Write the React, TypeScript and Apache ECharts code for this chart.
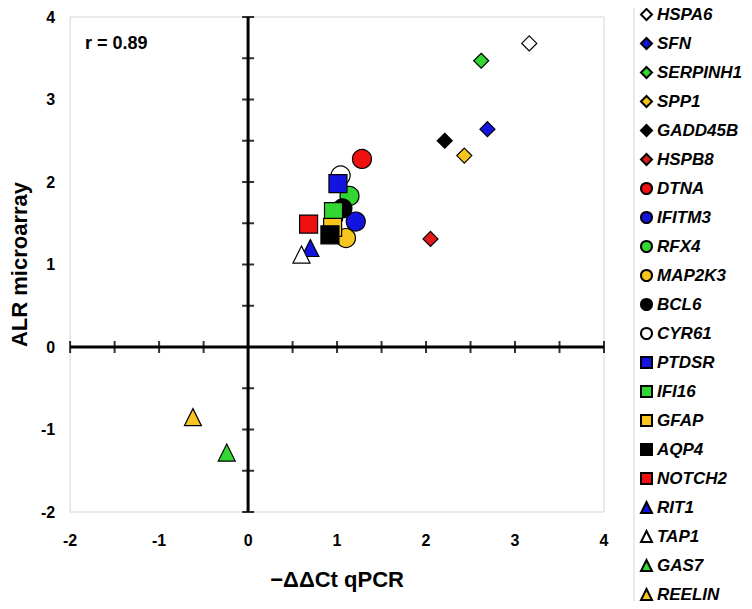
import React, { useEffect, useRef } from "react";
import * as echarts from "echarts";

const genes = ["HSPA6", "SFN", "SERPINH1", "SPP1", "GADD45B", "HSPB8", "DTNA", "IFITM3", "RFX4", "MAP2K3", "BCL6", "CYR61", "PTDSR", "IFI16", "GFAP", "AQP4", "NOTCH2", "RIT1", "TAP1", "GAS7", "REELIN"];
const qpcrValues = [3.16, 2.69, 2.62, 2.43, 2.21, 2.05, 1.28, 1.21, 1.14, 1.10, 1.06, 1.04, 1.01, 0.96, 0.95, 0.92, 0.68, 0.70, 0.60, -0.24, -0.62];
const microarrayValues = [3.68, 2.64, 3.47, 2.32, 2.50, 1.31, 2.28, 1.52, 1.83, 1.32, 1.68, 2.08, 1.98, 1.64, 1.45, 1.36, 1.49, 1.20, 1.12, -1.28, -0.85];
const shapes = ["diamond", "diamond", "diamond", "diamond", "diamond", "diamond", "circle", "circle", "circle", "circle", "circle", "circle", "rect", "rect", "rect", "rect", "rect", "triangle", "triangle", "triangle", "triangle"];
const colors = ["#ffffff", "#1414e0", "#33d633", "#f7c51e", "#000000", "#e01a1a", "#f01010", "#1414e0", "#33d633", "#f7c51e", "#000000", "#ffffff", "#1414e0", "#33d633", "#f7c51e", "#000000", "#f01010", "#1414e0", "#ffffff", "#33d633", "#f7c51e"];
const xTickLabels = [-2, -1, 0, 1, 2, 3, 4];
const yTickLabels = [-2, -1, 0, 1, 2, 3, 4];
const crossTicks = [-2, -1.5, -1, -0.5, 0.5, 1, 1.5, 2, 2.5, 3, 3.5, 4];
const correlationText = "r = 0.89";

const FONT = "'Liberation Sans', Arial, sans-serif";
const sizeFor: Record<string, number> = { diamond: 15, circle: 19, rect: 18, triangle: 17 };

export default function App() {
  const ref = useRef<HTMLDivElement>(null);
  useEffect(() => {
    if (!ref.current) return;
    const chart = echarts.init(ref.current, undefined, { renderer: "svg" });
    const geneSeries = genes.map((g, i) => ({
      name: g,
      type: "scatter",
      z: 3,
      symbol: shapes[i],
      symbolSize: sizeFor[shapes[i]],
      itemStyle: { color: colors[i], borderColor: "#000", borderWidth: 1.2, opacity: 1 },
      data: [[qpcrValues[i], microarrayValues[i]]],
    }));
    chart.setOption({
      animation: false,
      backgroundColor: "#fff",
      grid: { left: 68, top: 17, right: 148, bottom: 97, show: true, borderColor: "#d4d4d4", borderWidth: 1 },
      xAxis: {
        type: "value",
        min: -2,
        max: 4,
        interval: 1,
        name: "\u2212\u0394\u0394Ct qPCR",
        nameLocation: "middle",
        nameGap: 56,
        nameTextStyle: { fontFamily: FONT, fontWeight: "bold", fontSize: 22, color: "#000" },
        axisLine: { show: false },
        axisTick: { show: false },
        splitLine: { show: false },
        axisLabel: { margin: 20, fontFamily: FONT, fontWeight: "bold", fontSize: 16, color: "#000", formatter: (v: number) => (xTickLabels.includes(v) ? String(v) : "") },
      },
      yAxis: {
        type: "value",
        min: -2,
        max: 4,
        interval: 1,
        name: "ALR microarray",
        nameLocation: "middle",
        nameGap: 40,
        nameTextStyle: { fontFamily: FONT, fontWeight: "bold", fontSize: 22, color: "#000" },
        axisLine: { show: false },
        axisTick: { show: false },
        splitLine: { show: false },
        axisLabel: { margin: 15, fontFamily: FONT, fontWeight: "bold", fontSize: 16, color: "#000", formatter: (v: number) => (yTickLabels.includes(v) ? String(v) : "") },
      },
      legend: {
        orient: "vertical",
        left: 640,
        top: 6,
        height: 603,
        itemWidth: 11,
        itemHeight: 11,
        itemGap: 12,
        padding: 0,
        data: genes,
        textStyle: { fontFamily: FONT, fontWeight: "bold", fontStyle: "italic", fontSize: 17, color: "#000", lineHeight: 17 },
      },
      graphic: [
        { type: "line", shape: { x1: 634, y1: 0, x2: 634, y2: 603 }, style: { stroke: "#d4d4d4", lineWidth: 1 } },
        { type: "text", left: 85, top: 34, style: { text: correlationText, font: `bold 18px ${FONT}`, fill: "#000" } },
      ],
      series: [
        { type: "line", name: "xzero", z: 1, symbol: "none", silent: true, lineStyle: { color: "#000", width: 3 }, data: [[-2, 0], [4, 0]] },
        { type: "line", name: "yzero", z: 1, symbol: "none", silent: true, lineStyle: { color: "#000", width: 3 }, data: [[0, -2], [0, 4]] },
        { type: "scatter", name: "xticks", z: 1, symbol: "rect", symbolSize: [2, 12], silent: true, itemStyle: { color: "#000" }, data: crossTicks.map((v) => [v, 0]) },
        { type: "scatter", name: "yticks", z: 1, symbol: "rect", symbolSize: [12, 2], silent: true, itemStyle: { color: "#000" }, data: crossTicks.map((v) => [0, v]) },
        ...geneSeries,
      ],
    });
    return () => chart.dispose();
  }, []);
  return <div ref={ref} style={{ width: 752, height: 609, margin: -8 }} />;
}
